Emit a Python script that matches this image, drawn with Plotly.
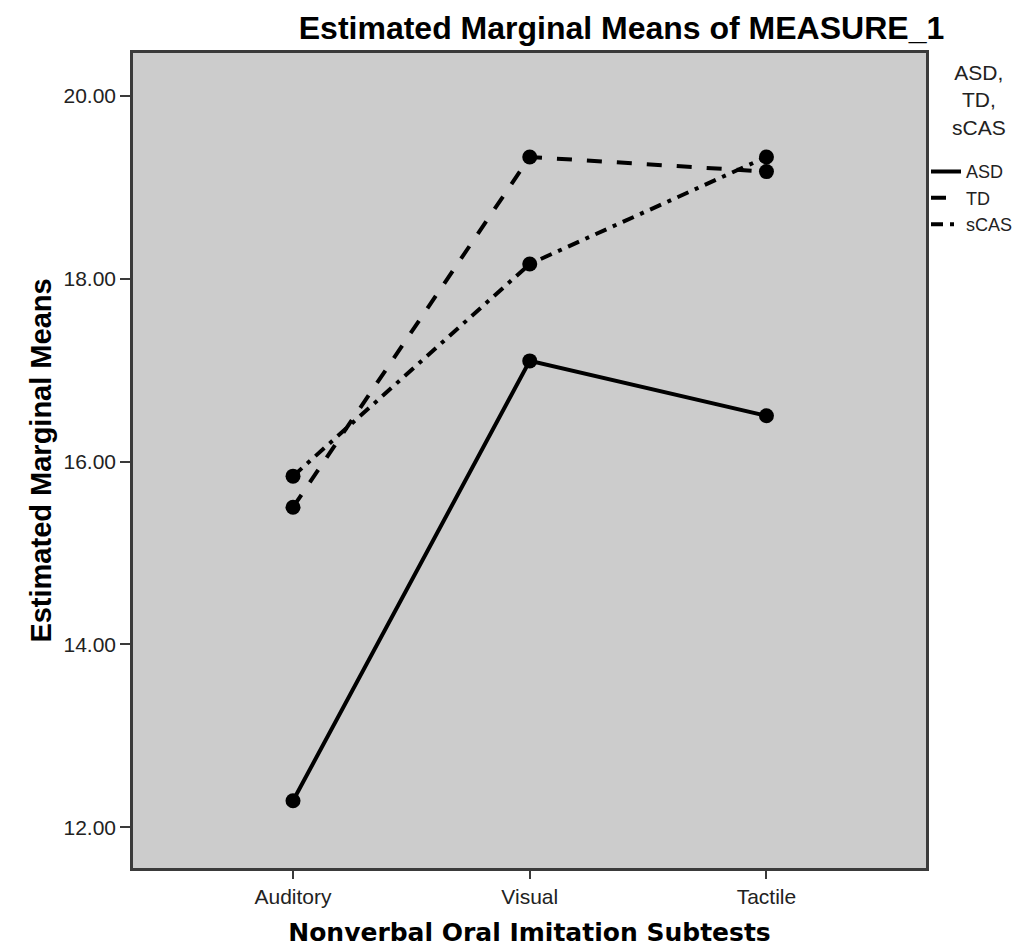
import plotly.graph_objects as go

categories = ["Auditory", "Visual", "Tactile"]
asd = [12.29, 17.10, 16.50]
td = [15.50, 19.33, 19.17]
scas = [15.84, 18.16, 19.33]
y_ticks = [12, 14, 16, 18, 20]
legend_title = "ASD,<br>TD,<br>sCAS"

x_pos = list(range(len(categories)))
fig = go.Figure()
series = [("ASD", asd, "solid"), ("TD", td, "15px,15px"), ("sCAS", scas, "12px,7px,4px,7px")]
for name, vals, dash in series:
    fig.add_trace(go.Scatter(
        x=x_pos, y=vals, name=name, mode="lines", legendgroup=name,
        line=dict(color="black", width=4, dash=dash),
    ))
for name, vals, dash in series:
    fig.add_trace(go.Scatter(
        x=x_pos, y=vals, name=name, mode="markers", legendgroup=name, showlegend=False,
        marker=dict(color="black", size=15, symbol="circle"),
    ))

font = "Liberation Sans, Arial, sans-serif"
fig.update_layout(
    width=1025, height=949,
    margin=dict(l=125, r=107, t=45, b=89),
    paper_bgcolor="white", plot_bgcolor="#cccccc",
    font=dict(family=font, color="#222", size=21),
    title=dict(text="<b>Estimated Marginal Means of MEASURE_1</b>", x=0.616, xref="paper",
               xanchor="center", y=0.979, yref="container", yanchor="middle",
               font=dict(size=32, color="black")),
    showlegend=True,
    legend=dict(x=1.0, y=0.877, xanchor="left", yanchor="top", bgcolor="rgba(0,0,0,0)",
                font=dict(size=18, color="#222"), itemwidth=30, tracegroupgap=0,
                traceorder="grouped"),
    annotations=[dict(text=legend_title, xref="paper", yref="paper", x=1.067, y=0.942,
                      xanchor="center", yanchor="middle", showarrow=False, align="center",
                      font=dict(size=21, color="#222"))],
)
fig.update_xaxes(
    tickmode="array", tickvals=x_pos, ticktext=categories, range=[-0.676, 2.674],
    showgrid=False, zeroline=False, showline=True, mirror=True, linecolor="#3a3a3a", linewidth=2.5,
    ticks="outside", ticklen=8, tickwidth=2, tickcolor="#3a3a3a", tickfont=dict(size=21, color="#222"),
    title=dict(text="<b>Nonverbal Oral Imitation Subtests</b>",
               font=dict(size=25, color="black", family="DejaVu Sans, Verdana, sans-serif"), standoff=17),
)
fig.update_yaxes(
    tickmode="array", tickvals=y_ticks, ticktext=[f"{v:.2f}" for v in y_ticks], range=[11.555, 20.467],
    showgrid=False, zeroline=False, showline=True, mirror=True, linecolor="#3a3a3a", linewidth=2.5,
    ticks="outside", ticklen=10, tickwidth=2, tickcolor="#3a3a3a", tickfont=dict(size=21, color="#222"),
    title=dict(text="<b>Estimated Marginal Means</b>", font=dict(size=29, color="black"), standoff=4),
)
fig.write_html("out.html")
